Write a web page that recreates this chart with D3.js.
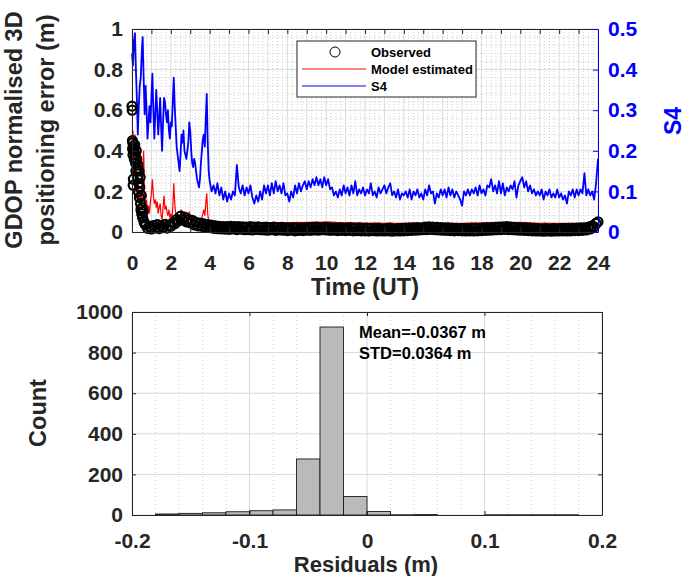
<!DOCTYPE html>
<html><head><meta charset="utf-8">
<script src="https://cdn.jsdelivr.net/npm/d3@7/dist/d3.min.js"></script>
<style>
body{margin:0;background:#fff}
text{font-family:"Liberation Sans",Arial,Helvetica,sans-serif;font-weight:bold}
</style>
</head><body>
<svg id="c" width="685" height="576"></svg>
<script>
// ---------------- DATA ----------------
// S4 (right axis), 0..3.95 h every 0.05 h
const s4Early = [0.44,0.41,0.47,0.49,0.40,0.33,0.24,0.31,0.36,0.38,
  0.44,0.48,0.38,0.29,0.36,0.30,0.23,0.27,0.31,0.27,
  0.33,0.39,0.30,0.23,0.29,0.35,0.30,0.24,0.28,0.33,
  0.26,0.20,0.27,0.33,0.32,0.29,0.27,0.30,0.25,0.23,
  0.27,0.26,0.32,0.38,0.31,0.26,0.21,0.19,0.17,0.15,
  0.19,0.24,0.22,0.25,0.20,0.19,0.18,0.20,0.22,0.27,
  0.25,0.20,0.17,0.16,0.18,0.17,0.15,0.13,0.12,0.11,
  0.13,0.17,0.20,0.23,0.24,0.21,0.28,0.34,0.22,0.15];
// S4, 4.0..24.0 h every 0.1 h
const s4Late = [0.125,0.10,0.115,0.095,0.12,0.09,0.11,0.08,0.10,0.075,
  0.095,0.08,0.10,0.09,0.165,0.11,0.095,0.115,0.09,0.11,
  0.095,0.115,0.085,0.07,0.09,0.075,0.10,0.08,0.115,0.095,
  0.115,0.09,0.12,0.095,0.125,0.10,0.115,0.095,0.12,0.09,
  0.095,0.075,0.10,0.085,0.115,0.095,0.12,0.10,0.115,0.125,
  0.105,0.125,0.11,0.13,0.115,0.135,0.115,0.13,0.11,0.135,
  0.115,0.13,0.105,0.11,0.09,0.10,0.085,0.105,0.09,0.115,
  0.095,0.11,0.09,0.115,0.095,0.125,0.09,0.105,0.095,0.11,
  0.09,0.105,0.095,0.12,0.09,0.10,0.085,0.11,0.095,0.105,
  0.115,0.095,0.11,0.12,0.09,0.10,0.085,0.105,0.08,0.095,
  0.09,0.10,0.085,0.105,0.08,0.10,0.09,0.105,0.085,0.095,
  0.08,0.105,0.09,0.115,0.095,0.10,0.07,0.095,0.085,0.105,
  0.09,0.105,0.085,0.11,0.09,0.105,0.085,0.10,0.09,0.08,
  0.065,0.10,0.09,0.105,0.09,0.105,0.095,0.11,0.09,0.115,
  0.095,0.105,0.09,0.115,0.11,0.13,0.10,0.115,0.095,0.125,
  0.095,0.12,0.09,0.11,0.10,0.115,0.105,0.125,0.085,0.115,
  0.125,0.135,0.11,0.125,0.10,0.115,0.095,0.105,0.09,0.10,
  0.09,0.105,0.08,0.10,0.09,0.105,0.085,0.095,0.085,0.105,
  0.085,0.095,0.08,0.09,0.07,0.10,0.09,0.105,0.085,0.105,
  0.09,0.105,0.095,0.145,0.09,0.105,0.09,0.10,0.08,0.12,
  0.18];
// Model estimated (left axis), 0..3.95 h every 0.05 h
const modelEarly = [0.46,0.50,0.36,0.48,0.23,0.32,0.16,0.23,0.13,0.19,
  0.11,0.30,0.40,0.17,0.14,0.16,0.10,0.13,0.09,0.15,
  0.19,0.26,0.18,0.14,0.16,0.12,0.15,0.09,0.12,0.14,
  0.08,0.06,0.12,0.18,0.11,0.13,0.10,0.08,0.11,0.07,
  0.09,0.06,0.12,0.24,0.14,0.09,0.07,0.08,0.06,0.05,
  0.08,0.11,0.07,0.09,0.06,0.05,0.07,0.06,0.08,0.10,
  0.07,0.06,0.05,0.055,0.05,0.06,0.05,0.045,0.05,0.045,
  0.055,0.06,0.07,0.09,0.11,0.08,0.14,0.19,0.09,0.05];
// Model estimated, 4.0..24.0 h every 0.25 h
const modelLate = [0.045,0.042,0.044,0.041, 0.043,0.045,0.042,0.044,
  0.043,0.045,0.044,0.046, 0.045,0.044,0.046,0.045,
  0.046,0.045,0.047,0.046, 0.048,0.047,0.049,0.048,
  0.050,0.049,0.047,0.046, 0.045,0.046,0.044,0.045,
  0.044,0.043,0.045,0.044, 0.043,0.045,0.043,0.042,
  0.043,0.042,0.044,0.043, 0.042,0.044,0.043,0.042,
  0.043,0.044,0.042,0.043, 0.042,0.044,0.045,0.044,
  0.045,0.046,0.045,0.047, 0.046,0.045,0.047,0.046,
  0.047,0.046,0.045,0.044, 0.043,0.044,0.043,0.042,
  0.043,0.042,0.044,0.043, 0.042,0.043,0.044,0.060,
  0.070];
// Observed (left axis): early scattered points [hour, value]
const observedEarly = [[0.00,0.62],[0.01,0.60],[0.02,0.45],[0.03,0.41],[0.04,0.44],[0.05,0.38],
  [0.06,0.23],[0.07,0.26],[0.08,0.42],[0.10,0.40],[0.12,0.36],[0.14,0.43],[0.16,0.38],
  [0.18,0.34],[0.20,0.30],[0.22,0.40],[0.24,0.36],[0.26,0.31],[0.28,0.27],[0.30,0.33],
  [0.32,0.20],[0.34,0.24],[0.36,0.30],[0.38,0.17],[0.40,0.22],[0.42,0.27],[0.44,0.14],
  [0.46,0.11],[0.48,0.18],[0.50,0.09],[0.52,0.12],[0.55,0.07],[0.58,0.10],[0.62,0.05],[0.66,0.04]];
// Observed, 0.7..24.0 h every 0.1 h
const observedBand = [0.035,0.018,0.028,
  0.015,0.032,0.020,0.036,0.017,0.030,0.022,0.038,0.019,0.033,
  0.028,0.045,0.040,0.062,0.055,0.078,0.060,0.074,0.050,0.062,
  0.045,0.058,0.035,0.048,0.030,0.044,0.028,0.040,0.024,0.036,
  0.022,0.034,0.018,0.030,0.016,0.028,0.015,0.027,0.014,0.026,
  0.013,0.028,0.015,0.026,0.012,0.027,0.014,0.025,0.011,0.024,
  0.012,0.026,0.010,0.024,0.013,0.025,0.011,0.023,0.010,0.024,
  0.009,0.022,0.011,0.024,0.008,0.021,0.010,0.023,0.009,0.020,
  0.007,0.020,0.009,0.022,0.006,0.019,0.008,0.021,0.007,0.020,
  0.009,0.022,0.008,0.023,0.010,0.024,0.009,0.022,0.011,0.023,
  0.010,0.022,0.008,0.021,0.009,0.020,0.007,0.021,0.008,0.019,
  0.007,0.020,0.008,0.021,0.006,0.019,0.007,0.020,0.006,0.018,
  0.006,0.019,0.005,0.018,0.007,0.017,0.005,0.018,0.006,0.016,
  0.005,0.017,0.006,0.018,0.004,0.016,0.006,0.017,0.005,0.018,
  0.006,0.019,0.007,0.020,0.008,0.021,0.009,0.022,0.010,0.021,
  0.011,0.024,0.012,0.025,0.013,0.024,0.011,0.023,0.010,0.022,
  0.009,0.021,0.008,0.020,0.007,0.019,0.006,0.018,0.007,0.017,
  0.006,0.018,0.005,0.017,0.006,0.018,0.005,0.019,0.006,0.018,
  0.007,0.020,0.008,0.021,0.009,0.022,0.010,0.023,0.011,0.024,
  0.012,0.025,0.013,0.026,0.012,0.024,0.011,0.023,0.010,0.022,
  0.009,0.021,0.008,0.020,0.007,0.019,0.006,0.018,0.005,0.017,
  0.005,0.016,0.004,0.017,0.005,0.016,0.004,0.017,0.005,0.016,
  0.005,0.017,0.006,0.018,0.005,0.017,0.006,0.018,0.007,0.019,
  0.007,0.020,0.008,0.021,0.010,0.024,0.015,0.030,0.025,0.042,
  0.050];
// Histogram of residuals: bins of 0.02 m from -0.2 to 0.2
const histBinStart = -0.2, histBinWidth = 0.02;
const histCounts = [0,5,8,11,16,21,25,276,926,91,17,1,2,0,0,1,1,1,1,0];
const histStats = ["Mean=-0.0367 m","STD=0.0364 m"];
// Ticks
const timeTicks = [0,1,2,3,4,5,6,7,8,9,10,11,12,13,14,15,16,17,18,19,20,21,22,23,24];
const timeTickLabels = ["0","","2","","4","","6","","8","","10","","12","","14","","16","","18","","20","","22","","24"];
const leftTicks = [0,0.2,0.4,0.6,0.8,1];
const leftTickLabels = ["0","0.2","0.4","0.6","0.8","1"];
const rightTicks = [0,0.1,0.2,0.3,0.4,0.5];
const rightTickLabels = ["0","0.1","0.2","0.3","0.4","0.5"];
const histXTicks = [-0.2,-0.1,0,0.1,0.2];
const histXTickLabels = ["-0.2","-0.1","0","0.1","0.2"];
const histYTicks = [0,200,400,600,800,1000];
const histYTickLabels = ["0","200","400","600","800","1000"];
const legendLabels = ["Observed","Model estimated","S4"];

// ---------------- DRAW ----------------
const svg = d3.select("#c");
const TXT = "#262626", BLUE = "#0000ff", RED = "#ff0000";
const r2 = v => Math.round(v*1000)/1000;

const s4 = s4Early.map((v,i)=>({t:r2(i*0.05),v})).concat(s4Late.map((v,i)=>({t:r2(4+i*0.1),v})));
const model = modelEarly.map((v,i)=>({t:r2(i*0.05),v})).concat(modelLate.map((v,i)=>({t:r2(4+i*0.25),v})));
const observed = observedEarly.map(d=>({t:d[0],v:d[1]})).concat(observedBand.map((v,i)=>({t:r2(0.7+i*0.1),v})));

// ---- Top panel ----
const T = {l:132, r:598, t:29, b:232};
const x = d3.scaleLinear().domain([0,24]).range([T.l,T.r]);
const yL = d3.scaleLinear().domain([0,1]).range([T.b,T.t]);
const yR = d3.scaleLinear().domain([0,0.5]).range([T.b,T.t]);

const gTop = svg.append("g");
const minorX = d3.range(0,24.001,0.25).filter(v=>Math.abs(v-Math.round(v))>1e-6);
const minorY = d3.range(0,1.0001,0.04).filter(v=>Math.abs(v*5-Math.round(v*5))>1e-6);
gTop.append("g").selectAll("line").data(minorX).join("line")
  .attr("x1",d=>x(d)).attr("x2",d=>x(d)).attr("y1",T.t).attr("y2",T.b)
  .attr("stroke","#c4c4c4").attr("stroke-width",0.8).attr("stroke-dasharray","1,2");
gTop.append("g").selectAll("line").data(minorY).join("line")
  .attr("y1",d=>yL(d)).attr("y2",d=>yL(d)).attr("x1",T.l).attr("x2",T.r)
  .attr("stroke","#c4c4c4").attr("stroke-width",0.8).attr("stroke-dasharray","1,2");
gTop.append("g").selectAll("line").data(timeTicks).join("line")
  .attr("x1",d=>x(d)).attr("x2",d=>x(d)).attr("y1",T.t).attr("y2",T.b)
  .attr("stroke","#dadada").attr("stroke-width",1);
gTop.append("g").selectAll("line").data(leftTicks).join("line")
  .attr("y1",d=>yL(d)).attr("y2",d=>yL(d)).attr("x1",T.l).attr("x2",T.r)
  .attr("stroke","#dadada").attr("stroke-width",1);

gTop.append("path").datum(s4)
  .attr("d",d3.line().x(d=>x(d.t)).y(d=>yR(d.v)))
  .attr("fill","none").attr("stroke",BLUE).attr("stroke-width",1.8).attr("stroke-linejoin","round");
gTop.append("path").datum(model)
  .attr("d",d3.line().x(d=>x(d.t)).y(d=>yL(d.v)))
  .attr("fill","none").attr("stroke",RED).attr("stroke-width",1.2);
gTop.append("g").selectAll("circle").data(observed).join("circle")
  .attr("cx",d=>x(d.t)).attr("cy",d=>yL(d.v)).attr("r",4.5)
  .attr("fill","none").attr("stroke","#000").attr("stroke-width",2.2);

function styleAxis(g, color, fs){
  g.select(".domain").attr("stroke",color).attr("stroke-width",1);
  g.selectAll(".tick line").attr("stroke",color);
  g.selectAll(".tick text").attr("fill",color).style("font-size",fs+"px").style("font-weight","bold")
   .style("font-family",'"Liberation Sans",Arial,sans-serif');
}
const axB = gTop.append("g").attr("transform",`translate(0,${T.b})`)
  .call(d3.axisBottom(x).tickValues(timeTicks).tickFormat((d,i)=>timeTickLabels[i]).tickSizeInner(-5).tickSizeOuter(0).tickPadding(23));
styleAxis(axB,TXT,21);
const axT = gTop.append("g").attr("transform",`translate(0,${T.t})`)
  .call(d3.axisTop(x).tickValues(timeTicks).tickFormat("").tickSizeInner(-5).tickSizeOuter(0));
styleAxis(axT,TXT,21);
const axL = gTop.append("g").attr("transform",`translate(${T.l},0)`)
  .call(d3.axisLeft(yL).tickValues(leftTicks).tickFormat((d,i)=>leftTickLabels[i]).tickSizeInner(-5).tickSizeOuter(0).tickPadding(9));
styleAxis(axL,TXT,21);
const axR = gTop.append("g").attr("transform",`translate(${T.r},0)`)
  .call(d3.axisRight(yR).tickValues(rightTicks).tickFormat((d,i)=>rightTickLabels[i]).tickSizeInner(-5).tickSizeOuter(0).tickPadding(10));
styleAxis(axR,BLUE,21);

gTop.append("text").attr("x",365).attr("y",295).attr("text-anchor","middle")
  .attr("fill",TXT).style("font-size","23.5px").text("Time (UT)");
gTop.append("text").attr("transform","translate(22,130) rotate(-90)").attr("text-anchor","middle")
  .attr("fill",TXT).style("font-size","23.5px").text("GDOP normalised 3D");
gTop.append("text").attr("transform","translate(54,130) rotate(-90)").attr("text-anchor","middle")
  .attr("fill",TXT).style("font-size","23.5px").text("positioning error (m)");
gTop.append("text").attr("transform","translate(681,121) rotate(-90)").attr("text-anchor","middle")
  .attr("fill",BLUE).style("font-size","23px").text("S4");

const lg = gTop.append("g");
lg.append("rect").attr("x",297).attr("y",41).attr("width",179).attr("height",56)
  .attr("fill","#fff").attr("stroke","#262626").attr("stroke-width",1);
lg.append("circle").attr("cx",335).attr("cy",52).attr("r",5).attr("fill","none").attr("stroke","#000");
lg.append("line").attr("x1",302).attr("x2",366).attr("y1",69).attr("y2",69).attr("stroke",RED);
lg.append("line").attr("x1",302).attr("x2",366).attr("y1",86).attr("y2",86).attr("stroke",BLUE);
lg.selectAll("text.lt").data(legendLabels).join("text").attr("class","lt")
  .attr("x",371).attr("y",(d,i)=>57+i*17).attr("fill","#000").style("font-size","13px").text(d=>d);

// ---- Histogram panel ----
const H = {l:132, r:602, t:312, b:515};
const hx = d3.scaleLinear().domain([-0.2,0.2]).range([H.l,H.r]);
const hy = d3.scaleLinear().domain([0,1000]).range([H.b,H.t]);
const gH = svg.append("g");
const hMinor = d3.range(-0.2,0.2001,0.02).filter(v=>Math.abs(v*10-Math.round(v*10))>1e-6);
gH.append("g").selectAll("line").data(hMinor).join("line")
  .attr("x1",d=>hx(d)).attr("x2",d=>hx(d)).attr("y1",H.t).attr("y2",H.b)
  .attr("stroke","#c4c4c4").attr("stroke-width",0.8).attr("stroke-dasharray","1,3");
gH.append("g").selectAll("line").data(histXTicks).join("line")
  .attr("x1",d=>hx(d)).attr("x2",d=>hx(d)).attr("y1",H.t).attr("y2",H.b)
  .attr("stroke","#dadada");
gH.append("g").selectAll("line").data(histYTicks).join("line")
  .attr("y1",d=>hy(d)).attr("y2",d=>hy(d)).attr("x1",H.l).attr("x2",H.r)
  .attr("stroke","#dadada");
const bins = histCounts.map((c,i)=>({x0:r2(histBinStart+i*histBinWidth), x1:r2(histBinStart+(i+1)*histBinWidth), c}));
gH.append("g").selectAll("rect").data(bins.filter(b=>b.c>0)).join("rect")
  .attr("x",d=>hx(d.x0)).attr("width",d=>hx(d.x1)-hx(d.x0))
  .attr("y",d=>hy(d.c)).attr("height",d=>hy(0)-hy(d.c))
  .attr("fill","#bababa").attr("stroke","#1a1a1a").attr("stroke-width",0.9);

const hB = gH.append("g").attr("transform",`translate(0,${H.b})`)
  .call(d3.axisBottom(hx).tickValues(histXTicks).tickFormat((d,i)=>histXTickLabels[i]).tickSizeInner(-4).tickSizeOuter(0).tickPadding(18));
styleAxis(hB,TXT,21);
const hT = gH.append("g").attr("transform",`translate(0,${H.t})`)
  .call(d3.axisTop(hx).tickValues(histXTicks).tickFormat("").tickSizeInner(-4).tickSizeOuter(0));
styleAxis(hT,TXT,21);
const hL = gH.append("g").attr("transform",`translate(${H.l},0)`)
  .call(d3.axisLeft(hy).tickValues(histYTicks).tickFormat((d,i)=>histYTickLabels[i]).tickSizeInner(-4).tickSizeOuter(0).tickPadding(9));
styleAxis(hL,TXT,21);
const hR = gH.append("g").attr("transform",`translate(${H.r},0)`)
  .call(d3.axisRight(hy).tickValues(histYTicks).tickFormat("").tickSizeInner(-4).tickSizeOuter(0));
styleAxis(hR,TXT,21);

gH.selectAll("text.st").data(histStats).join("text").attr("class","st")
  .attr("x",359).attr("y",(d,i)=>338+i*21).attr("fill","#000").style("font-size","16.5px").text(d=>d);
gH.append("text").attr("x",366).attr("y",572).attr("text-anchor","middle")
  .attr("fill",TXT).style("font-size","22px").text("Residuals (m)");
gH.append("text").attr("transform","translate(46,413) rotate(-90)").attr("text-anchor","middle")
  .attr("fill",TXT).style("font-size","23.5px").text("Count");
</script>
</body></html>
